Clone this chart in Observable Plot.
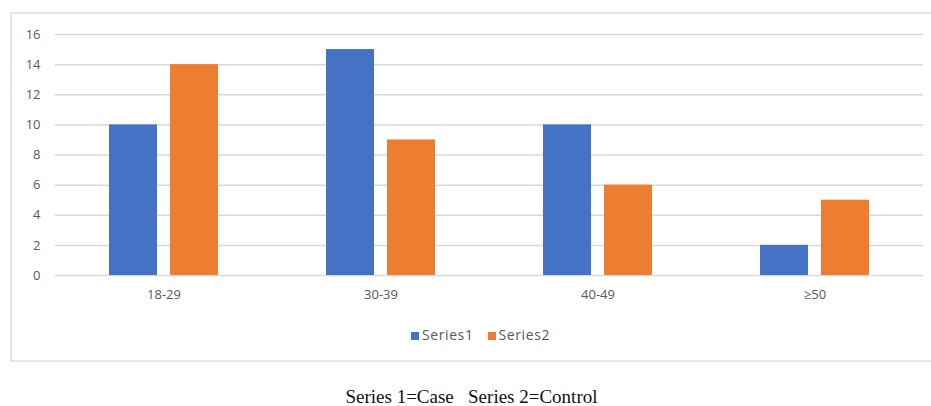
<!DOCTYPE html>
<html>
<head>
<meta charset="utf-8">
<script src="https://cdn.jsdelivr.net/npm/d3@7"></script>
<script src="https://cdn.jsdelivr.net/npm/@observablehq/plot@0.6"></script>
<style>
  body { margin: 0; background: #fff; }
  #wrap { position: relative; width: 931px; height: 406px; overflow: hidden; }
  #frame { position: absolute; left: 10px; top: 12px; width: 930px; height: 350px; border: 2px solid #e6e6e6; box-sizing: border-box; }
  #chart { position: absolute; left: 0; top: 0; }
  #legend { position: absolute; top: 325px; left: 15px; width: 931px; text-align: center; font-family: "Open Sans", sans-serif; font-size: 14px; letter-spacing: 0.6px; color: #595959; }
  #legend span.sw { display: inline-block; width: 8px; height: 8px; margin-right: 3px; vertical-align: 0px; }
  #legend span.item { margin: 0 7px; }
  #caption { position: absolute; top: 386px; left: 6px; width: 931px; text-align: center; font-family: "Liberation Serif", "Times New Roman", serif; font-size: 19px; color: #111; white-space: pre; }
</style>
</head>
<body>
<div id="wrap">
  <div id="frame"></div>
  <div id="chart"></div>
  <div id="legend"></div>
  <div id="caption"></div>
</div>
<script>
const categories = ["18-29", "30-39", "40-49", "≥50"];
const seriesNames = ["Series1", "Series2"];
const series1 = [10, 15, 10, 2];
const series2 = [14, 9, 6, 5];
const yTicks = [0, 2, 4, 6, 8, 10, 12, 14, 16];
const colors = ["#4472C4", "#ED7D31"];
const captionText = "Series 1=Case   Series 2=Control";

const rows = [];
categories.forEach((c, i) => {
  rows.push({age: c, series: seriesNames[0], value: series1[i]});
  rows.push({age: c, series: seriesNames[1], value: series2[i]});
});

const chart = Plot.plot({
  width: 931,
  height: 310,
  marginTop: 34,
  marginBottom: 35,
  marginLeft: 55,
  marginRight: 8,
  style: {fontFamily: "'Open Sans', sans-serif", fontSize: "13px", color: "#595959", background: "transparent"},
  fx: {domain: categories, padding: 0, label: null},
  x: {domain: seriesNames, paddingInner: 0.21, paddingOuter: 0.87, axis: null},
  y: {domain: [0, 16], label: null},
  color: {domain: seriesNames, range: colors},
  marks: [
    Plot.gridY(yTicks, {stroke: "#d9d9d9", strokeOpacity: 1, strokeWidth: 1.5}),
    Plot.axisY(yTicks, {tickSize: 0, tickPadding: 15, label: null, fontSize: 13, fill: "#595959"}),
    Plot.axisFx({anchor: "bottom", tickSize: 0, tickPadding: 14, label: null, fontSize: 13, fill: "#595959"}),
    Plot.barY(rows, {fx: "age", x: "series", y: "value", fill: "series"})
  ]
});
document.getElementById("chart").appendChild(chart);

const legend = document.getElementById("legend");
seriesNames.forEach((s, i) => {
  const item = document.createElement("span");
  item.className = "item";
  const sw = document.createElement("span");
  sw.className = "sw";
  sw.style.background = colors[i];
  item.appendChild(sw);
  item.appendChild(document.createTextNode(s));
  legend.appendChild(item);
});
document.getElementById("caption").textContent = captionText;
</script>
</body>
</html>
